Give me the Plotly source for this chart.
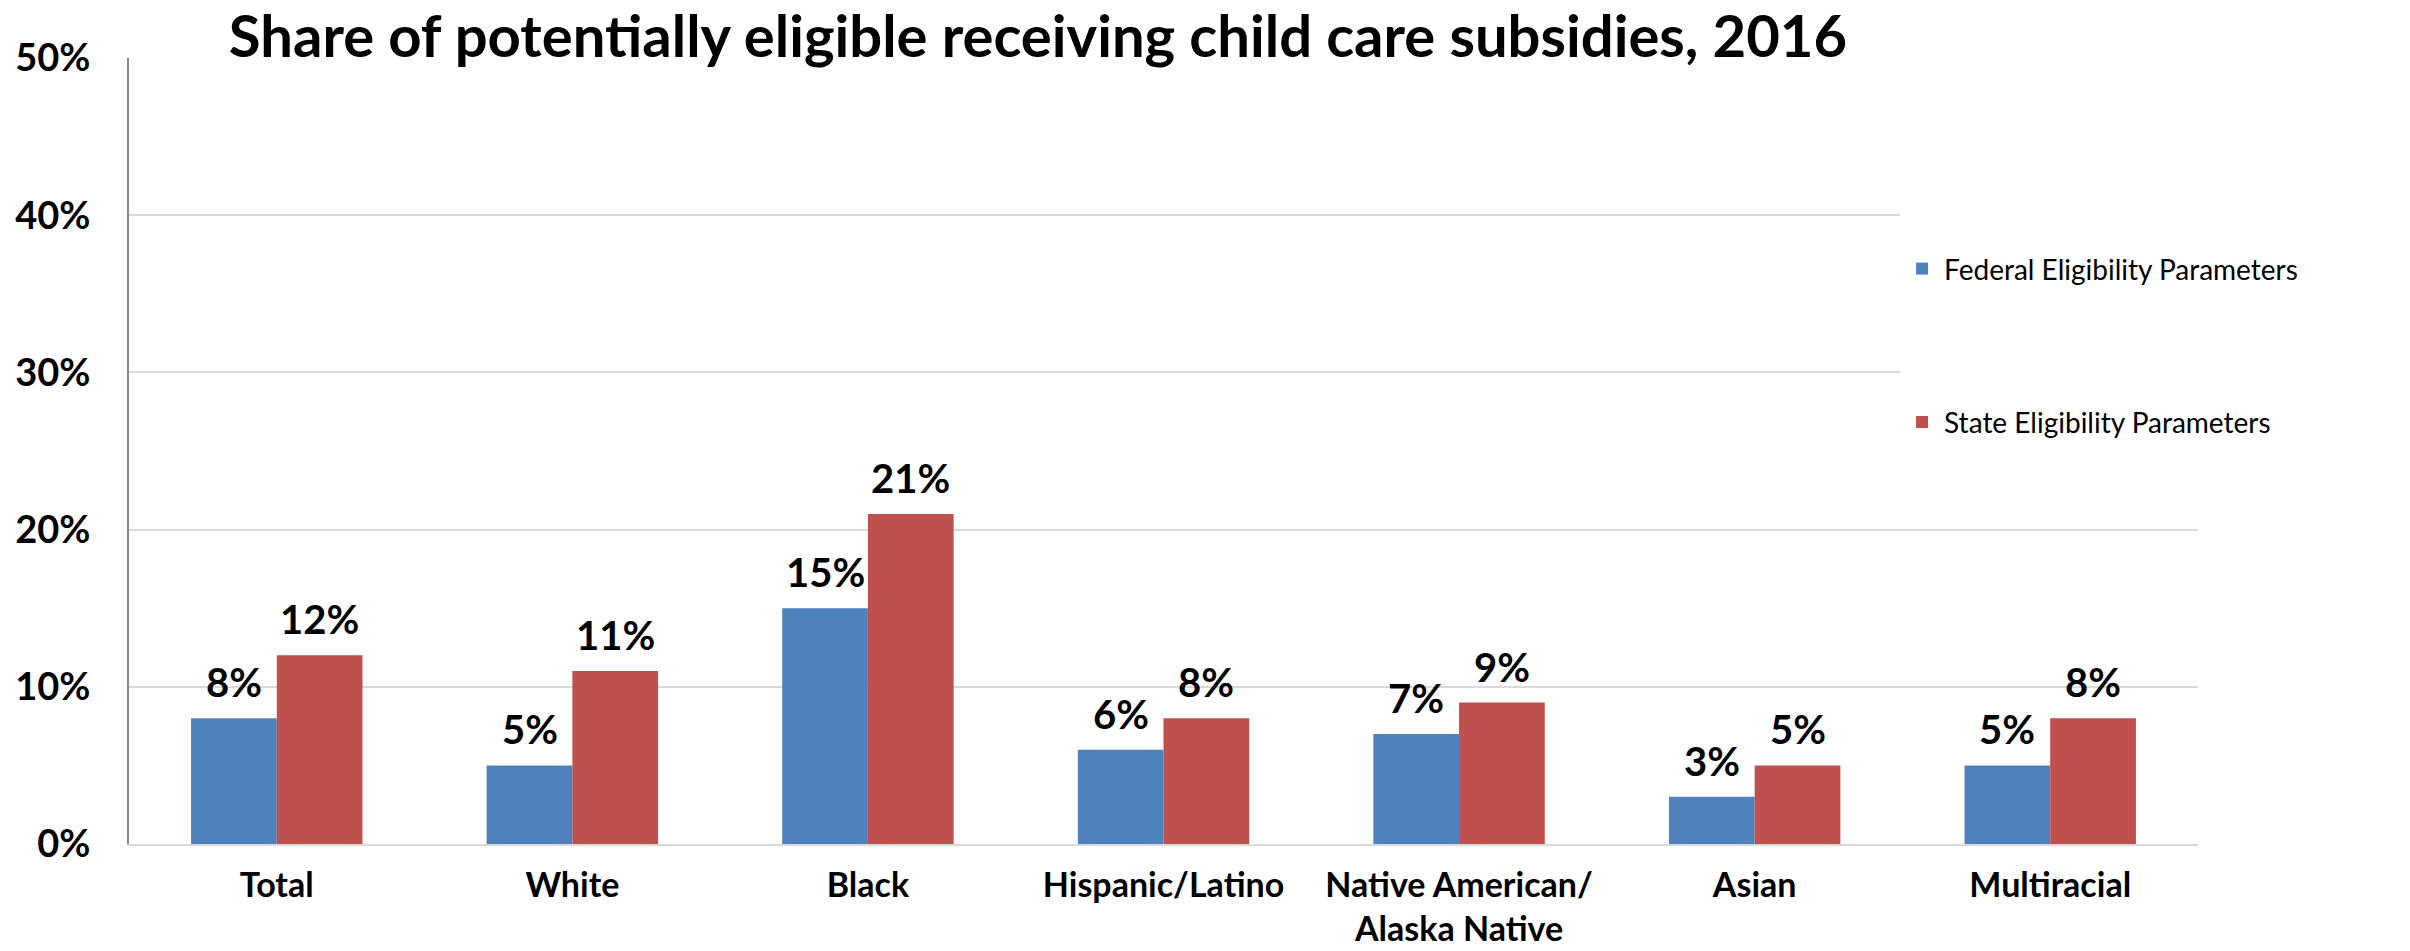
import plotly.graph_objects as go

# Categories and subsidy receipt shares (fractions)
categories = ["Total", "White", "Black", "Hispanic/Latino",
              "Native American/<br>Alaska Native", "Asian", "Multiracial"]
federal = [0.08, 0.05, 0.15, 0.06, 0.07, 0.03, 0.05]
state = [0.12, 0.11, 0.21, 0.08, 0.09, 0.05, 0.08]
series_names = ["Federal Eligibility Parameters", "State Eligibility Parameters"]
y_ticks = [0, 0.1, 0.2, 0.3, 0.4, 0.5]

BLUE = "#4F81BD"
RED = "#C0504D"
FONT = "Lato"
BAR_GAP = 0.42
BAR_W = (1 - BAR_GAP) / 2

fig = go.Figure()
fig.add_trace(go.Bar(x=categories, y=federal, name=series_names[0],
                     marker=dict(color=BLUE, line=dict(width=0)),
                     legendgroup="fed"))
fig.add_trace(go.Bar(x=categories, y=state, name=series_names[1],
                     marker=dict(color=RED, line=dict(width=0)),
                     legendgroup="state"))

# value labels above each bar
for i, (f, s) in enumerate(zip(federal, state)):
    for val, off in ((f, -BAR_W / 2), (s, BAR_W / 2)):
        fig.add_annotation(x=i + off, y=val, xref="x", yref="y",
                           text=f"{val:.0%}", showarrow=False,
                           yanchor="bottom", yshift=10,
                           font=dict(family=FONT, size=40, color="black",
                                     weight="bold"))

fig.update_layout(
    width=2410, height=951,
    margin=dict(l=129, r=212, t=58, b=107, autoexpand=False),
    paper_bgcolor="white", plot_bgcolor="white",
    barmode="group", bargap=BAR_GAP, bargroupgap=0,
    title=dict(text="<b>Share of potentially eligible receiving child care subsidies, 2016</b>",
               x=0.4307, xanchor="center", xref="container",
               y=0.961, yanchor="middle", yref="container",
               font=dict(family=FONT, size=58, color="black")),
    legend=dict(x=0.856, xanchor="left", y=0.823, yanchor="top",
                bgcolor="white", borderwidth=0,
                traceorder="grouped", tracegroupgap=114, itemwidth=34,
                title=dict(text=" ", font=dict(size=36)),
                font=dict(family=FONT, size=28, color="black")),
    showlegend=True,
)

fig.update_xaxes(type="category", showgrid=False, showline=True,
                 linecolor="#D9D9D9", linewidth=2, ticks="",
                 ticklabelstandoff=10, automargin=False,
                 tickfont=dict(family=FONT, size=34, color="black", weight="bold"))
fig.update_yaxes(range=[0, 0.5], tickvals=y_ticks, tickformat=".0%",
                 showgrid=True, gridcolor="#D9D9D9", gridwidth=2,
                 zeroline=False, showline=True, linecolor="#868686", linewidth=2,
                 ticks="", ticklabelstandoff=29, automargin=False,
                 tickfont=dict(family=FONT, size=38, color="black", weight="bold"))

fig.write_html("out.html")
